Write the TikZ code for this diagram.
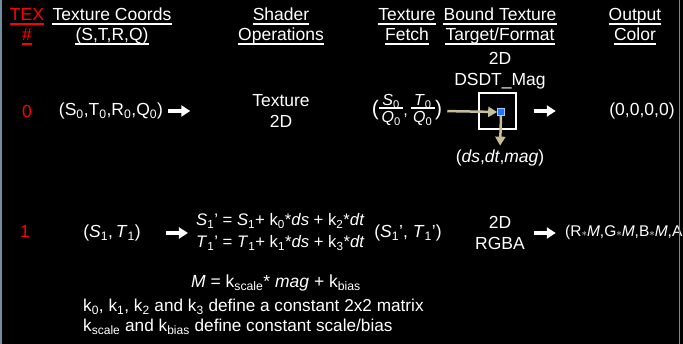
\documentclass[tikz,border=0pt]{standalone}
\usepackage{fontspec}
\setmainfont{Liberation Sans}
\usetikzlibrary{arrows.meta}
\newcommand{\lowidx}[1]{\textsubscript{#1}}
\newcommand{\texfrac}[2]{\begin{tabular}{@{}c@{}}#1\\[-3pt]\hline\rule{0pt}{14pt}#2\end{tabular}}
\definecolor{fetchtan}{RGB}{200,190,150}
\definecolor{frameblue}{RGB}{112,142,160}
\definecolor{texelblue}{RGB}{30,120,255}

\begin{document}
\begin{tikzpicture}[x=1pt, y=-1pt,
    txt/.style={text=white, font=\fontsize{17.5}{21}\selectfont, inner sep=0pt, align=center},
    hd/.style={txt, anchor=base},
    uline/.style={white, line width=1.5pt},
    warrow/.style={white, line width=3.5pt, -{Triangle[length=9pt, width=11pt]}},
    tarrow/.style={fetchtan, line width=2.5pt, -{Triangle[length=9pt, width=10pt]}}]

    \fill[black] (0,0) rectangle (683,344);
    \useasboundingbox (0,0) rectangle (683,344);

    % column headings
    \node[hd, text=red] (tex) at (27,21) {TEX};
    \node[hd, text=red] (hash) at (27,41) {\#};
    \node[hd] (coords) at (112,21) {Texture Coords};
    \node[hd] (strq) at (112,41) {(S,T,R,Q)};
    \node[hd] (shader) at (281,21) {Shader};
    \node[hd] (ops) at (281,41) {Operations};
    \node[hd] (texture) at (407,21) {Texture};
    \node[hd] (fetch) at (407,41) {Fetch};
    \node[hd] (bound) at (500,21) {Bound Texture};
    \node[hd] (target) at (500,41) {Target/Format};
    \node[hd] (output) at (635,21) {Output};
    \node[hd] (color) at (635,41) {Color};

    \foreach \n in {tex,hash}
        \draw[uline, red] ([yshift=-3pt]\n.base west) -- ([yshift=-3pt]\n.base east);
    \foreach \n in {coords,strq,shader,ops,texture,fetch,bound,target,output,color}
        \draw[uline] ([yshift=-3pt]\n.base west) -- ([yshift=-3pt]\n.base east);

    % texture unit 0
    \node[txt, text=red] (n0) at (27,111) {0};
    \node[txt] (in0) at (111,111) {(S\lowidx{0},T\lowidx{0},R\lowidx{0},Q\lowidx{0})};
    \node[txt] (shade0) at (281,111) {Texture\\2D};
    \node[txt, font=\fontsize{16}{16}\selectfont] (fetch0) at (407,111)
        {\setlength{\arrayrulewidth}{1.3pt}\setlength{\tabcolsep}{0pt}%
         {\fontsize{21}{21}\selectfont(}\texfrac{\,\textit{S}\lowidx{0}\,}{\,\textit{Q}\lowidx{0}\,},\,%
         \texfrac{\,\textit{T}\lowidx{0}\,}{\,\textit{Q}\lowidx{0}\,}{\fontsize{21}{21}\selectfont)}};
    \node[txt] (fmt0) at (500,71) {2D\\DSDT\_Mag};
    \node[draw=white, line width=1.5pt, minimum width=37pt, minimum height=36pt, inner sep=0pt] (texel) at (497.5,111) {};
    \node[fill=texelblue, draw=white!60!texelblue, line width=0.6pt, minimum size=7pt, inner sep=0pt] (dot) at (501,112) {};
    \node[txt] (dsdt) at (500,158) {(\textit{ds},\textit{dt},\textit{mag})};
    \node[txt] (out0) at (642,111) {(0,0,0,0)};

    \draw[warrow] ([xshift=5pt]in0.east) -- ++(22,0);
    \draw[tarrow, shorten <=5pt] (fetch0.east) -- (dot.west);
    \draw[tarrow, shorten >=4pt] (dot.south) -- (dsdt.north);
    \draw[warrow] ([xshift=17pt]texel.east) -- ++(22,0);

    % texture unit 1
    \node[txt, text=red] (n1) at (25,231) {1};
    \node[txt] (in1) at (112,233) {(\textit{S}\lowidx{1},\,\textit{T}\lowidx{1})};
    \node[txt, anchor=west, align=left, font=\fontsize{16.7}{22}\selectfont] (shade1) at (196,232)
        {\textit{S}\lowidx{1}' = \textit{S}\lowidx{1}+ k\lowidx{0}*\textit{ds} + k\lowidx{2}*\textit{dt}\\
         \textit{T}\lowidx{1}' = \textit{T}\lowidx{1}+ k\lowidx{1}*\textit{ds} + k\lowidx{3}*\textit{dt}};
    \node[txt] (fetch1) at (408,233) {(\textit{S}\lowidx{1}',\ \textit{T}\lowidx{1}')};
    \node[txt] (fmt1) at (500,233) {2D\\RGBA};
    \node[txt, anchor=west, font=\fontsize{15.5}{18}\selectfont] (out1) at (565,232)
        {(R{\fontsize{11}{11}\selectfont$\ast$}\textit{M},G{\fontsize{11}{11}\selectfont$\ast$}\textit{M},B{\fontsize{11}{11}\selectfont$\ast$}\textit{M},A};

    \draw[warrow] ([xshift=25pt]in1.east) -- ++(22,0);
    \draw[warrow] ([xshift=17pt]texel.east |- fmt1) -- ++(22,0);

    % scale/bias notes
    \node[txt, font=\fontsize{17.5}{20}\selectfont] (mform) at (276,283)
        {\textit{M} = k\lowidx{scale}* \textit{mag} + k\lowidx{bias}};
    \node[txt, anchor=west, align=left, font=\fontsize{17.2}{20}\selectfont] (note) at (83,317)
        {k\lowidx{0}, k\lowidx{1}, k\lowidx{2} and k\lowidx{3} define a constant 2x2 matrix\\
         k\lowidx{scale} and k\lowidx{bias} define constant scale/bias};

    % slide edges
    \draw[frameblue, line width=1.5pt] (1,0) -- (1,344);
    \draw[frameblue, line width=1.5pt] (679.5,0) -- (679.5,344);
\end{tikzpicture}
\end{document}
